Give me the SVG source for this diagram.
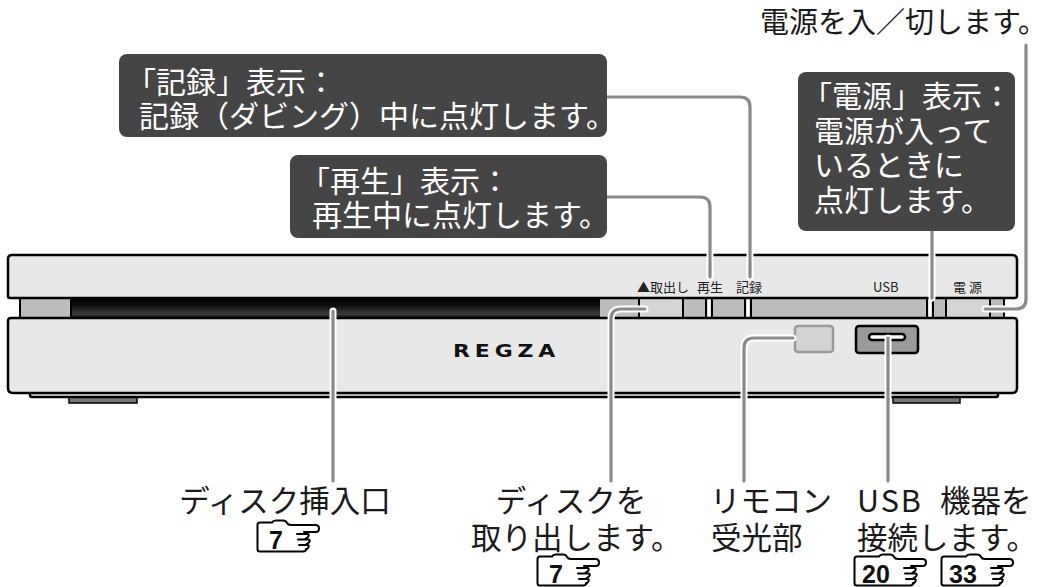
<svg xmlns="http://www.w3.org/2000/svg" xmlns:xlink="http://www.w3.org/1999/xlink" width="1059" height="587" viewBox="0 0 1059 587">
  <style>
    .panel { fill:#e8e8e8; stroke:#000; stroke-width:2.5; stroke-linejoin:round; }
    .sep { stroke:#000; stroke-width:2; }
    .slit { fill:#fff; }
    .box { fill:#454545; }
    .bt { fill:#fff; font-family:"Noto Sans CJK JP", "Noto Sans CJK SC", sans-serif; font-size:30px; }
    .lbl { fill:#1a1a1a; font-family:"Noto Sans CJK JP", "Noto Sans CJK SC", sans-serif; font-size:30.5px; }
    .small { fill:#222; font-family:"Noto Sans CJK JP", "Noto Sans CJK SC", sans-serif; font-size:13px; }
    .halo { fill:none; stroke:#fff; stroke-width:7; stroke-linecap:round; stroke-linejoin:round; }
    .ln { fill:none; stroke:#8a8a8a; stroke-width:3.2; stroke-linecap:round; stroke-linejoin:round; }
    .icon { fill:none; stroke:#000; stroke-width:2; stroke-linejoin:round; stroke-linecap:round; }
    .dig { fill:#111; font-family:"Liberation Sans", Arial, sans-serif; font-weight:bold; font-size:25px; }
  </style>
  <defs>
    <linearGradient id="slot" x1="0" y1="0" x2="0" y2="1">
      <stop offset="0" stop-color="#000"/>
      <stop offset="0.35" stop-color="#0a0a0a"/>
      <stop offset="0.8" stop-color="#3c3c3c"/>
      <stop offset="1" stop-color="#111"/>
    </linearGradient>
    <!-- page-reference mark: bracket with pointing hand, one digit -->
    <path id="ref1" class="icon" d="M50,28 Q50,30.5 47,30.5 H4 Q1.5,30.5 1.5,28 V4 Q1.5,1.5 4,1.5 H16 Q17,-0.5 20,-0.5 H27 Q30,-0.5 31,2 Q32,4 35,4 H59.5 Q63,4 63,7.5 Q63,11 59.5,11 H48 M41,13 H51 Q54,13 52,16 L49,18 M42,18.5 H52 Q55,18.5 53,21.5 L50,23.5 M43,24 H51 Q54,24 52,27 L49.5,29.5"/>
    <!-- same mark, widened for two digits -->
    <path id="ref2" class="icon" d="M60,28 Q60,30.5 57,30.5 H4 Q1.5,30.5 1.5,28 V4 Q1.5,1.5 4,1.5 H26 Q27,-0.5 30,-0.5 H37 Q40,-0.5 41,2 Q42,4 45,4 H69.5 Q73,4 73,7.5 Q73,11 69.5,11 H58 M51,13 H61 Q64,13 62,16 L59,18 M52,18.5 H62 Q65,18.5 63,21.5 L60,23.5 M53,24 H61 Q64,24 62,27 L59.5,29.5"/>
    <!-- leader line routes -->
    <path id="c-rec" d="M600,97 H740 Q750,97 750,107 V277"/>
    <path id="c-play" d="M600,197 H700 Q710,197 710,207 V277"/>
    <path id="c-pwrled" d="M932,225 V298"/>
    <path id="c-pwr" d="M1026,45 V299 Q1026,309 1016,309 H985"/>
    <path id="c-eject" d="M645,309 H621 Q611,309 611,319 V481"/>
    <path id="c-disc" d="M333,311 V481"/>
    <path id="c-remote" d="M793,338 H754 Q744,338 744,348 V481"/>
    <path id="c-usb" d="M888,338 V481"/>
  </defs>

  <rect width="1059" height="587" fill="#fff"/>

  <!-- recorder front view -->
  <g id="recorder">
    <!-- tray strip between the two panels -->
    <rect x="20" y="297" width="984" height="22" fill="#bcbcbc" stroke="#000" stroke-width="2"/>
    <rect x="71" y="298" width="529" height="20" fill="url(#slot)"/>
    <rect x="639" y="298" width="44" height="20" fill="#d5d5d5"/>
    <rect x="946" y="298" width="44" height="20" fill="#d5d5d5"/>
    <g class="sep">
      <line x1="71" y1="298" x2="71" y2="318"/>
      <line x1="639" y1="298" x2="639" y2="318"/>
      <line x1="683" y1="298" x2="683" y2="318"/>
      <line x1="706" y1="298" x2="706" y2="318"/>
      <line x1="712" y1="298" x2="712" y2="318"/>
      <line x1="745" y1="298" x2="745" y2="318"/>
      <line x1="751" y1="298" x2="751" y2="318"/>
      <line x1="927" y1="298" x2="927" y2="318"/>
      <line x1="933" y1="298" x2="933" y2="318"/>
      <line x1="946" y1="298" x2="946" y2="318"/>
      <line x1="990" y1="298" x2="990" y2="318"/>
    </g>
    <rect class="slit" x="707.5" y="299" width="3" height="18"/>
    <rect class="slit" x="746.5" y="299" width="3" height="18"/>
    <rect class="slit" x="928.5" y="299" width="3" height="18"/>

    <!-- top panel -->
    <path class="panel" d="M12,255 H1012 Q1017,255 1017,260 V296 Q1017,298 1015,298 H10 Q8,298 8,296 V259 Q8,255 12,255 Z"/>
    <!-- base plinth and feet -->
    <rect x="69" y="395" width="68" height="8" fill="#777" stroke="#000" stroke-width="1.5"/>
    <rect x="893" y="395" width="67" height="8" fill="#777" stroke="#000" stroke-width="1.5"/>
    <path d="M30,392 V395 Q30,397 32,397 H996 Q998,397 998,395 V392" fill="#e8e8e8" stroke="#000" stroke-width="2.5"/>
    <!-- front panel -->
    <path class="panel" d="M11,318 H1014 Q1017,318 1017,321 V388 Q1017,393 1012,393 H13 Q8,393 8,388 V321 Q8,318 11,318 Z"/>

    <!-- remote sensor window -->
    <rect x="795" y="326" width="38" height="26" rx="3" fill="#d3d3d3" stroke="#9a9a9a" stroke-width="2.5"/>
    <!-- USB port -->
    <rect x="856" y="326" width="62" height="27" rx="3" fill="#9a9a9a" stroke="#000" stroke-width="2.5"/>
    <rect x="869" y="334" width="36" height="6" rx="3" fill="#fff" stroke="#000" stroke-width="2.5"/>

    <!-- brand logo, widened -->
    <text transform="translate(453,357) scale(1.22,1)" letter-spacing="4" font-family="DejaVu Sans, sans-serif" font-size="18" font-weight="bold" fill="#111">REGZA</text>

    <text class="small" x="637" y="292">▲取出し</text>
    <text class="small" x="697" y="292">再生</text>
    <text class="small" x="736" y="292">記録</text>
    <text class="small" x="873" y="292">USB</text>
    <text class="small" x="953" y="292" letter-spacing="3">電源</text>
  </g>

  <!-- leader lines -->
  <g id="connectors">
    <use xlink:href="#c-rec" class="halo"/>
    <use xlink:href="#c-play" class="halo"/>
    <use xlink:href="#c-pwrled" class="halo"/>
    <use xlink:href="#c-pwr" class="halo"/>
    <use xlink:href="#c-eject" class="halo"/>
    <use xlink:href="#c-disc" class="halo"/>
    <use xlink:href="#c-remote" class="halo"/>
    <use xlink:href="#c-usb" class="halo"/>
    <use xlink:href="#c-rec" class="ln"/>
    <use xlink:href="#c-play" class="ln"/>
    <use xlink:href="#c-pwrled" class="ln"/>
    <use xlink:href="#c-pwr" class="ln"/>
    <use xlink:href="#c-eject" class="ln"/>
    <use xlink:href="#c-disc" class="ln"/>
    <use xlink:href="#c-remote" class="ln"/>
    <use xlink:href="#c-usb" class="ln"/>
  </g>

  <!-- dark callouts -->
  <g id="rec-indicator">
    <rect class="box" x="119" y="54" width="488" height="83" rx="8"/>
    <text class="bt" x="126" y="93">「記録」表示：</text>
    <text class="bt" x="139" y="127">記録（ダビング）中に点灯します。</text>
  </g>
  <g id="play-indicator">
    <rect class="box" x="290" y="155" width="317" height="83" rx="8"/>
    <text class="bt" x="300" y="192">「再生」表示：</text>
    <text class="bt" x="312" y="226">再生中に点灯します。</text>
  </g>
  <g id="power-indicator">
    <rect class="box" x="798" y="72" width="217" height="159" rx="8"/>
    <text class="bt" x="802" y="107">「電源」表示：</text>
    <text class="bt" x="814" y="141.5">電源が入って</text>
    <text class="bt" x="814" y="176">いるときに</text>
    <text class="bt" x="814" y="210.5">点灯します。</text>
  </g>

  <!-- plain labels -->
  <g id="power-button">
    <text class="lbl" x="760" y="33" style="font-size:29px">電源を入／切します。</text>
  </g>
  <g id="disc-slot">
    <text class="lbl" x="285" y="512" text-anchor="middle">ディスク挿入口</text>
    <use xlink:href="#ref1" x="256" y="521"/>
    <text class="dig" x="269" y="549">7</text>
  </g>
  <g id="eject-button">
    <text class="lbl" x="571" y="512" text-anchor="middle">ディスクを</text>
    <text class="lbl" x="471" y="549">取り出します。</text>
    <use xlink:href="#ref1" x="536" y="555"/>
    <text class="dig" x="549" y="583">7</text>
  </g>
  <g id="remote-sensor">
    <text class="lbl" x="710" y="512">リモコン</text>
    <text class="lbl" x="711" y="549">受光部</text>
  </g>
  <g id="usb-port">
    <text class="lbl" x="857" y="512"><tspan letter-spacing="2">USB</tspan> <tspan x="940">機器を</tspan></text>
    <text class="lbl" x="857" y="549">接続します。</text>
    <use xlink:href="#ref2" x="853" y="555"/>
    <text class="dig" x="862" y="583">20</text>
    <use xlink:href="#ref2" x="940" y="555"/>
    <text class="dig" x="949" y="583">33</text>
  </g>
</svg>
